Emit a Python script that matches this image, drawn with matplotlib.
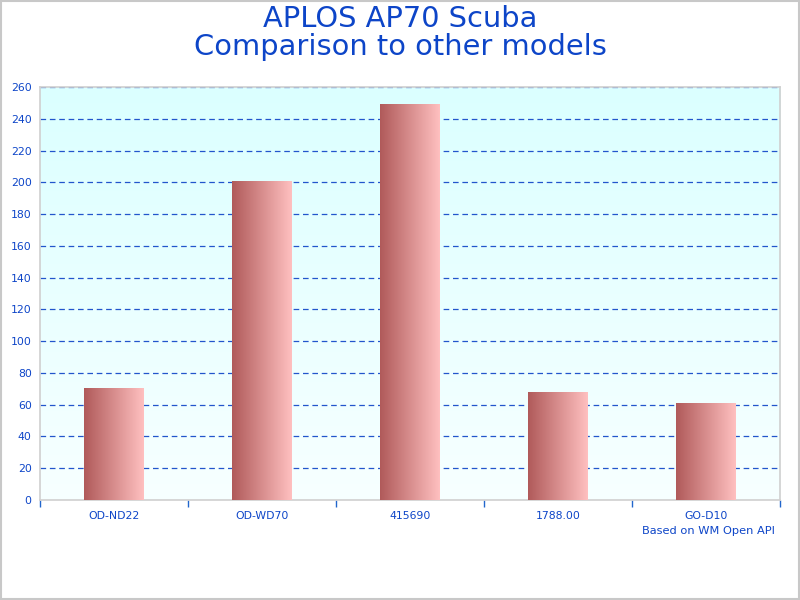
import numpy as np
import matplotlib
matplotlib.use("Agg")
import matplotlib.pyplot as plt
from matplotlib.colors import LinearSegmentedColormap
import matplotlib.patches as mpatches

# ── Data ──────────────────────────────────────────────────────────────────────
models = ["OD-ND22", "OD-WD70", "415690", "1788.00", "GO-D10"]
values = [70.5, 200.5, 249, 67.5, 60.5]
y_ticks = list(range(0, 261, 20))

BLUE = "#0D45C8"
GRID = "#2255CC"
bar_cmap = LinearSegmentedColormap.from_list("bar", ["#B05A5A", "#FFC0C0"])
bg_cmap = LinearSegmentedColormap.from_list("bg", ["#F7FFFF", "#DBFFFF"])

fig = plt.figure(figsize=(8, 6), dpi=100)
fig.patches.append(mpatches.Rectangle((0.001, 0.001), 0.998, 0.997, transform=fig.transFigure,
                                      fill=False, edgecolor="#C8C8C8", linewidth=1.5))
ax = fig.add_axes([0.05, 0.1667, 0.925, 0.688])

x = np.arange(len(models))

# background gradient
grad = np.linspace(0, 1, 256).reshape(-1, 1)
ax.imshow(grad, cmap=bg_cmap, aspect="auto", origin="lower",
          extent=(-0.5, len(models) - 0.5, 0, 260), zorder=0)

for yv in y_ticks[1:]:
    ax.axhline(yv, color=GRID, linestyle=(0, (4.5, 3)), linewidth=0.9, zorder=1)

bars = ax.bar(x, values, width=0.405, color="none", edgecolor="none", zorder=2)
hgrad = np.linspace(0, 1, 256).reshape(1, -1)
for b in bars:
    x0, w, h = b.get_x(), b.get_width(), b.get_height()
    ax.imshow(hgrad, cmap=bar_cmap, aspect="auto",
              extent=(x0, x0 + w, 0, h), zorder=3)
ax.set_xlim(-0.5, len(models) - 0.5)
ax.set_ylim(0, 260)

for s in ax.spines.values():
    s.set_color("#D0D0D0")
    s.set_linewidth(1.2)

ax.set_yticks(y_ticks)
ax.tick_params(axis="y", length=0, colors=BLUE, labelsize=7.8, pad=6)
ax.set_xticks(x)
ax.set_xticklabels(models)
ax.set_xticks(np.arange(-0.5, len(models)), minor=True)
ax.tick_params(axis="x", which="major", length=0, colors=BLUE, labelsize=7.8, pad=8)
ax.tick_params(axis="x", which="minor", length=5, color="#2266CC", direction="out", width=1)

fig.text(0.5, 0.992, "APLOS AP70 Scuba\nComparison to other models", ha="center", va="top",
         fontsize=20.8, color=BLUE, linespacing=1.0)
fig.text(0.969, 0.115, "Based on WM Open API", ha="right", va="center",
         fontsize=8.2, color=BLUE)

fig.savefig("out.png", dpi=100)
